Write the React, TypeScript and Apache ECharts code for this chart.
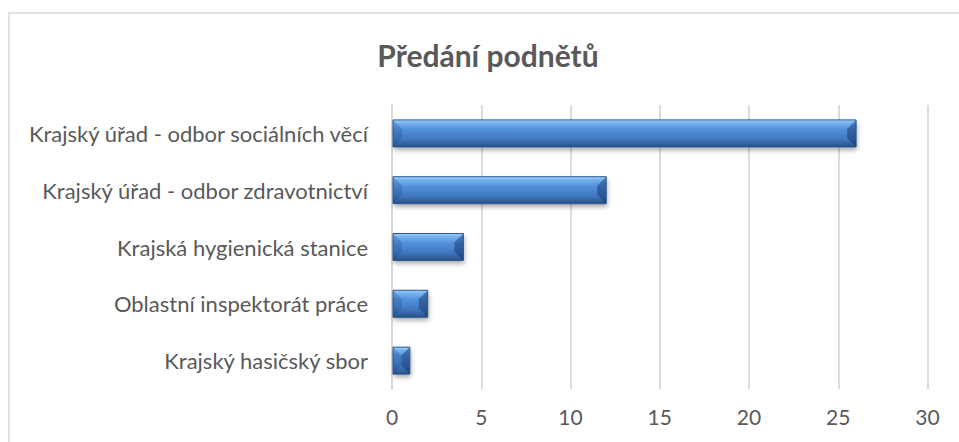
import React, { useEffect, useRef } from "react";
import * as echarts from "echarts";

const title = "Předání podnětů";
const categories = [
  "Krajský úřad - odbor sociálních věcí",
  "Krajský úřad - odbor zdravotnictví",
  "Krajská hygienická stanice",
  "Oblastní inspektorát práce",
  "Krajský hasičský sbor",
];
const values = [26, 12, 4, 2, 1];
const xTicks = { min: 0, max: 30, interval: 5 };

const FONT = "Lato, 'Open Sans', sans-serif";
const TEXT = "#595959";
const GRID = "#d9d9d9";

export default function App() {
  const ref = useRef<HTMLDivElement>(null);
  useEffect(() => {
    if (!ref.current) return;
    const chart = echarts.init(ref.current, undefined, { renderer: "svg" });
    const data = values.map((v, i) => [v, i]);
    chart.setOption({
      animation: false,
      backgroundColor: "#ffffff",
      textStyle: { fontFamily: FONT },
      grid: { left: 392, right: 31.5, top: 105, bottom: 53, containLabel: false },
      graphic: [
        {
          type: "rect",
          shape: { x: 9, y: 13, width: 990, height: 470 },
          style: { fill: "none", stroke: GRID, lineWidth: 1.5 },
          silent: true,
          z: -10,
        },
        {
          type: "text",
          x: 488,
          y: 55,
          style: {
            text: title,
            fill: TEXT,
            font: `bold 30px ${FONT}`,
            textAlign: "center",
            textVerticalAlign: "middle",
          },
        },
      ],
      xAxis: {
        type: "value",
        min: xTicks.min,
        max: xTicks.max,
        interval: xTicks.interval,
        axisLine: { show: false },
        axisTick: { show: false },
        axisLabel: { color: TEXT, fontSize: 21, fontFamily: FONT, margin: 17 },
        splitLine: { show: true, lineStyle: { color: GRID, width: 1.8 } },
      },
      yAxis: {
        type: "category",
        data: categories,
        inverse: true,
        axisLine: { show: true, lineStyle: { color: GRID, width: 1.8 } },
        axisTick: { show: false },
        axisLabel: { color: TEXT, fontSize: 22, fontFamily: FONT, margin: 24 },
        splitLine: { show: false },
      },
      series: [
        {
          type: "custom",
          encode: { x: 0, y: 1 },
          data,
          renderItem: (params: any, api: any) => {
            const idx = api.value(1);
            const start = api.coord([0, idx]);
            const end = api.coord([api.value(0), idx]);
            const band = api.size([0, 1])[1];
            const h = band * 0.475;
            const x0 = start[0] + 1;
            const x1 = end[0];
            const y0 = start[1] - h / 2;
            const y1 = start[1] + h / 2;
            const w = x1 - x0;
            const b = Math.min(9, w / 2, h / 2);
            return {
              type: "group",
              children: [
                {
                  type: "rect",
                  shape: { x: x0, y: y0, width: w, height: h },
                  style: {
                    fill: new echarts.graphic.LinearGradient(0, 0, 0, 1, [
                      { offset: 0, color: "#a2d3fb" },
                      { offset: 0.12, color: "#74b1ef" },
                      { offset: 0.35, color: "#5291db" },
                      { offset: 0.7, color: "#4178c0" },
                      { offset: 0.9, color: "#325f9c" },
                      { offset: 1, color: "#264d82" },
                    ]),
                    shadowBlur: 5,
                    shadowOffsetX: 1,
                    shadowOffsetY: 3,
                    shadowColor: "rgba(0,0,0,0.35)",
                  },
                },
                {
                  type: "polygon",
                  shape: {
                    points: [
                      [x0, y0],
                      [x0 + b, y0 + b],
                      [x0 + b, y1 - b],
                      [x0, y1],
                    ],
                  },
                  style: { fill: "rgba(20,60,120,0.22)" },
                },
                {
                  type: "polygon",
                  shape: {
                    points: [
                      [x1, y0],
                      [x1 - b, y0 + b],
                      [x1 - b, y1 - b],
                      [x1, y1],
                    ],
                  },
                  style: { fill: "rgba(15,45,100,0.45)" },
                },
                {
                  type: "rect",
                  shape: { x: x0, y: y0, width: w, height: h },
                  style: { fill: "none", stroke: "#2a5790", lineWidth: 1 },
                },
              ],
            };
          },
        },
      ],
    });
    return () => chart.dispose();
  }, []);
  return (
    <div
      ref={ref}
      style={{ position: "absolute", left: 0, top: 0, width: 959, height: 442 }}
    />
  );
}
